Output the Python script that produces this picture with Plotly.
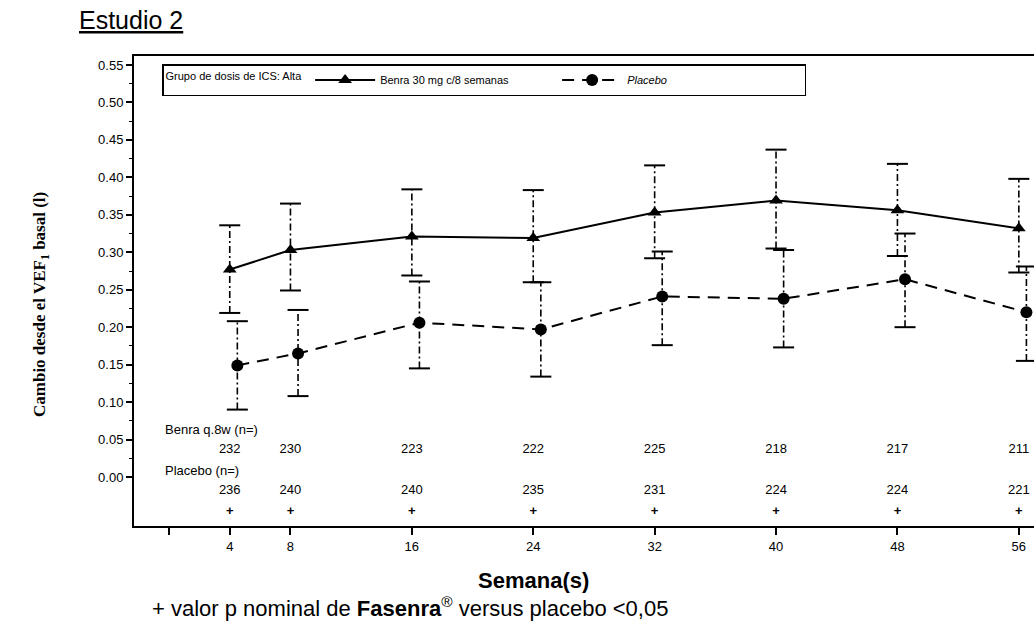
import plotly.graph_objects as go

weeks = [4, 8, 16, 24, 32, 40, 48, 56]
benra_mean = [0.277, 0.303, 0.321, 0.319, 0.353, 0.369, 0.356, 0.332]
benra_upper = [0.336, 0.365, 0.384, 0.383, 0.416, 0.437, 0.418, 0.398]
benra_lower = [0.219, 0.249, 0.269, 0.260, 0.292, 0.305, 0.295, 0.273]
placebo_mean = [0.149, 0.165, 0.206, 0.197, 0.241, 0.238, 0.264, 0.220]
placebo_upper = [0.208, 0.223, 0.261, 0.260, 0.301, 0.303, 0.325, 0.281]
placebo_lower = [0.090, 0.108, 0.145, 0.134, 0.176, 0.173, 0.200, 0.155]
benra_n = [232, 230, 223, 222, 225, 218, 217, 211]
placebo_n = [236, 240, 240, 235, 231, 224, 224, 221]
p_sig = [True, True, True, True, True, True, True, True]
y_ticks = [0.00, 0.05, 0.10, 0.15, 0.20, 0.25, 0.30, 0.35, 0.40, 0.45, 0.50, 0.55]
x_ticks = [0, 4, 8, 16, 24, 32, 40, 48, 56]

SANS = "Liberation Sans, Arial, sans-serif"
SERIF = "Liberation Serif, Times New Roman, serif"
OFFSET = 0.5  # horizontal dodge for placebo

plac_x = [w + OFFSET for w in weeks]

fig = go.Figure()


def err_segments(xs, lo, hi):
    X, Y = [], []
    for x, a, b in zip(xs, lo, hi):
        X += [x, x, None]
        Y += [a, b, None]
    return X, Y


for xs, lo, hi in [(weeks, benra_lower, benra_upper), (plac_x, placebo_lower, placebo_upper)]:
    X, Y = err_segments(xs, lo, hi)
    fig.add_trace(go.Scatter(x=X, y=Y, mode="lines", showlegend=False, hoverinfo="skip",
                             line=dict(color="black", width=1.6, dash="7px,3px,2px,3px")))
    fig.add_trace(go.Scatter(x=xs + xs, y=lo + hi, mode="markers", showlegend=False, hoverinfo="skip",
                             marker=dict(symbol="line-ew", size=15, line=dict(color="black", width=2))))

fig.add_trace(go.Scatter(x=weeks, y=benra_mean, mode="lines+markers", name="Benra 30 mg c/8 semanas",
                         line=dict(color="black", width=2),
                         marker=dict(symbol="triangle-up", size=12, color="black")))
fig.add_trace(go.Scatter(x=plac_x, y=placebo_mean, mode="lines+markers", name="<i>Placebo</i>",
                         line=dict(color="black", width=2, dash="12px,8px"),
                         marker=dict(symbol="circle", size=12, color="black")))

# n rows
fig.add_trace(go.Scatter(x=weeks, y=[0.037] * len(weeks), mode="text", text=[str(v) for v in benra_n],
                         textfont=dict(family=SANS, size=13, color="black"), showlegend=False, hoverinfo="skip"))
fig.add_trace(go.Scatter(x=weeks, y=[-0.019] * len(weeks), mode="text", text=[str(v) for v in placebo_n],
                         textfont=dict(family=SANS, size=13, color="black"), showlegend=False, hoverinfo="skip"))
fig.add_trace(go.Scatter(x=weeks, y=[-0.047] * len(weeks), mode="text", text=["<b>+</b>" if s else "" for s in p_sig],
                         textfont=dict(family=SANS, size=13, color="black"), showlegend=False, hoverinfo="skip"))

annotations = [
    dict(x=-0.4, y=0.063, xref="x", yref="y", text="Benra q.8w (n=)", showarrow=False, xanchor="left",
         font=dict(family=SANS, size=13, color="black")),
    dict(x=-0.4, y=0.009, xref="x", yref="y", text="Placebo (n=)", showarrow=False, xanchor="left",
         font=dict(family=SANS, size=13, color="black")),
    dict(x=77, y=20, xref="paper", yref="paper", text="<u>Estudio 2</u>", showarrow=False,
         xanchor="left", yanchor="middle", font=dict(family=SANS, size=25, color="black")),
    dict(x=533, y=580, text="<b>Semana(s)</b>", showarrow=False, xanchor="center", yanchor="middle",
         font=dict(family=SANS, size=22, color="black")),
    dict(x=150, y=607, text="+ valor p nominal de <b>Fasenra</b><sup>®</sup> versus placebo <0,05",
         showarrow=False, xanchor="left", yanchor="middle", font=dict(family=SANS, size=22, color="black")),
    dict(x=41, y=305, text="<b>Cambio desde el VEF<sub>1</sub> basal (l)</b>", showarrow=False,
         textangle=-90, xanchor="center", yanchor="middle", font=dict(family=SERIF, size=17, color="black")),
]

W, H = 1034, 625
ML, MR, MT, MB = 134, 0, 56, 99
pw, ph = W - ML - MR, H - MT - MB
for a in annotations:
    if a.get("xref") is None or a["xref"] == "paper":
        a["xref"] = "paper"
        a["yref"] = "paper"
        a["x"] = (a["x"] - ML) / pw
        a["y"] = 1 - (a["y"] - MT) / ph

fig.update_layout(
    width=W, height=H, margin=dict(l=ML, r=MR, t=MT, b=MB),
    paper_bgcolor="white", plot_bgcolor="white",
    font=dict(family=SANS, color="black"),
    annotations=annotations,
    legend=dict(
        orientation="h", x=(162 - ML) / pw, y=1 - (64 - MT) / ph, xanchor="left", yanchor="top",
        bordercolor="black", borderwidth=1.5, bgcolor="white",
        font=dict(family=SANS, size=11, color="black"),
        title=dict(text="Grupo de dosis de ICS: Alta", font=dict(family=SANS, size=11, color="black"),
                   side="left"),
        itemwidth=60, entrywidth=172, entrywidthmode="pixels",
    ),
    xaxis=dict(range=[-2.31, 57.0], tickmode="array", tickvals=x_ticks,
               ticktext=["" if v == 0 else str(v) for v in x_ticks],
               showline=True, linecolor="black", linewidth=2, mirror=True,
               ticks="outside", ticklen=7, tickwidth=1.5, tickcolor="black",
               showgrid=False, zeroline=False,
               tickfont=dict(family=SANS, size=13, color="black")),
    yaxis=dict(range=[-0.0654, 0.562], tickmode="array", tickvals=y_ticks,
               ticktext=["%.2f" % v for v in y_ticks],
               showline=True, linecolor="black", linewidth=2, mirror=False,
               ticks="outside", ticklen=6, tickwidth=1.5, tickcolor="black",
               minor=dict(tickmode="array", tickvals=[v + 0.025 for v in y_ticks[:-1]],
                          ticks="outside", ticklen=3, tickwidth=1, tickcolor="black"),
               showgrid=False, zeroline=False,
               tickfont=dict(family=SANS, size=13, color="black")),
)

fig.write_html("out.html")
